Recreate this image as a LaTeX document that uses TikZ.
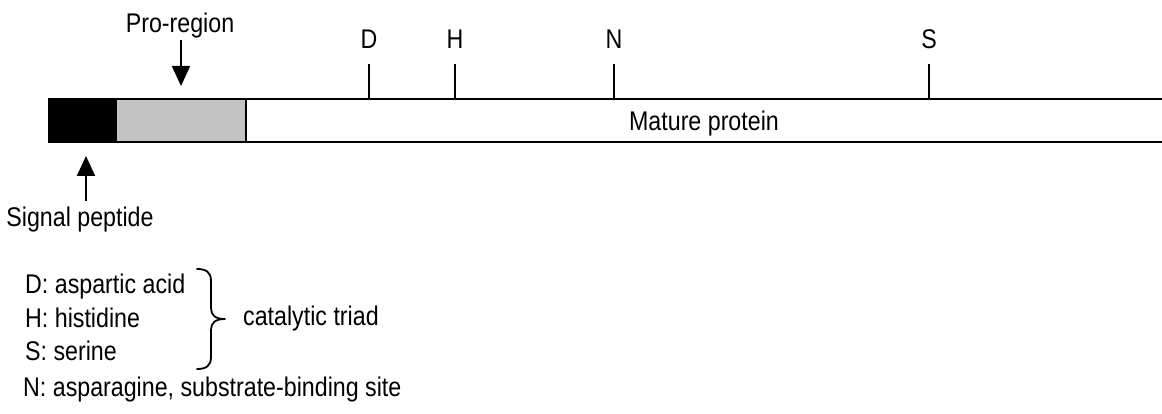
\documentclass[tikz,border=0pt]{standalone}
\usepackage{fontspec}
\setmainfont[FakeStretch=0.86]{Liberation Sans}
\usetikzlibrary{arrows.meta}
\definecolor{progray}{RGB}{195,195,195}
\tikzset{
  lbl/.style={inner sep=0pt,font=\fontsize{27}{31}\selectfont},
  ln/.style={line width=2.2pt},
  tick/.style={line width=2pt},
  arr/.style={line width=2pt,-{Triangle[width=18pt,length=20pt]}},
  bracestyle/.style={line width=1.8pt,line cap=round,line join=round},
}
\begin{document}
\begin{tikzpicture}[x=1pt,y=-1pt]
\useasboundingbox (0,0) rectangle (1162,414);
\begin{scope}
\clip (0,0) rectangle (1162,414);
% segments
\fill[white] (246,99) rectangle (1170,142);
\draw[ln] (246,99) -- (1170,99);
\draw[ln] (246,142) -- (1170,142);
\draw[ln,fill=progray] (116,99) rectangle (246,142);
\draw[ln,fill=black] (49,99) rectangle (116,142);
\end{scope}
\node[lbl,anchor=base] (mat) at (704,131) {Mature protein};
% site labels and ticks
\node[lbl,anchor=base] (D) at (369,49) {D};
\node[lbl,anchor=base] (H) at (455,49) {H};
\node[lbl,anchor=base] (N) at (614,49) {N};
\node[lbl,anchor=base] (S) at (929,49) {S};
\coordinate (Dt) at (369,64); \coordinate (Db) at (369,99);
\coordinate (Ht) at (455,64); \coordinate (Hb) at (455,99);
\coordinate (Nt) at (614,64); \coordinate (Nb) at (614,99);
\coordinate (St) at (929,64); \coordinate (Sb) at (929,99);
\draw[tick] (Dt) -- (Db);
\draw[tick] (Ht) -- (Hb);
\draw[tick] (Nt) -- (Nb);
\draw[tick] (St) -- (Sb);
% pro-region
\node[lbl,anchor=base] (pro) at (180,33) {Pro-region};
\coordinate (proa) at (181,40);
\coordinate (prob) at (181,86);
\draw[arr] (proa) -- (prob);
% signal peptide
\node[lbl,anchor=base] (sig) at (80,226) {Signal peptide};
\coordinate (siga) at (86,201);
\coordinate (sigb) at (86,156);
\draw[arr] (siga) -- (sigb);
% legend
\node[lbl,anchor=base west] (lD) at (25,293) {D: aspartic acid};
\node[lbl,anchor=base west] (lH) at (25,327) {H: histidine};
\node[lbl,anchor=base west] (lS) at (25,360) {S: serine};
\node[lbl,anchor=base west] (lN) at (23,396) {N: asparagine, substrate-binding site};
\coordinate (brt) at (197,269);
\coordinate (brb) at (197,369);
\coordinate (brtip) at (225,319);
\draw[bracestyle] (brt) .. controls (206,269) and (211,272) .. (211,281)
  -- (211,308) .. controls (211,315) and (215,319) .. (brtip)
  .. controls (215,319) and (211,323) .. (211,330)
  -- (211,357) .. controls (211,366) and (206,369) .. (brb);
\node[lbl,anchor=base west] (cat) at (243,325) {catalytic triad};
\end{tikzpicture}
\end{document}
